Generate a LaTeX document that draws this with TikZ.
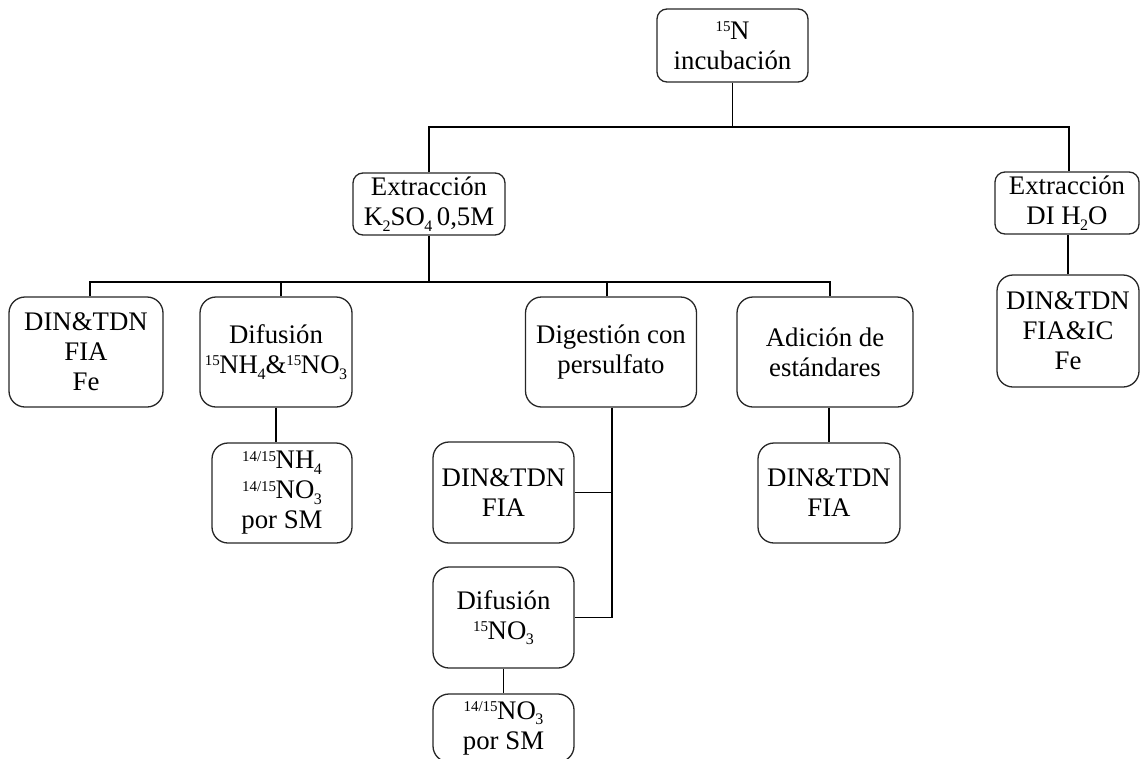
\documentclass[tikz,border=0pt]{standalone}
\usepackage{fontspec}
\setmainfont{Liberation Serif}
\newcommand\upn[1]{\raisebox{0.62ex}{\fontsize{15}{15}\selectfont #1}\kern-0.5pt}
\newcommand\dnn[1]{\kern-0.5pt\raisebox{-0.45ex}{\fontsize{16}{16}\selectfont #1}}
\begin{document}
\begin{tikzpicture}[x=1pt,y=-1pt,
  box/.style={draw=black!85, line width=1.3pt, rounded corners=16pt, align=center,
    inner sep=0pt, font=\fontsize{26.8}{30}\selectfont},
  sbox/.style={box, rounded corners=10pt},
  conn/.style={line width=1.4pt, black}]
\useasboundingbox (0,0) rectangle (1141,758);
\node[sbox, minimum width=151pt, minimum height=73pt] (top) at (732.5,45.5) {\upn{15}N\\incubación};
\node[sbox, minimum width=152pt, minimum height=62pt] (ext1) at (429,204) {Extracción\\K\dnn{2}SO\dnn{4}\,0,5M};
\node[sbox, minimum width=144pt, minimum height=62pt] (ext2) at (1067,203) {Extracción\\DI H\dnn{2}O};
\node[box, minimum width=142pt, minimum height=112pt] (fe2) at (1068,331) {DIN\&TDN\\FIA\&IC\\Fe};
\node[box, minimum width=154pt, minimum height=110pt] (din1) at (86,352) {DIN\&TDN\\FIA\\Fe};
\node[box, minimum width=152pt, minimum height=110pt] (dif1) at (276,352) {Difusión\\\upn{15}NH\dnn{4}\&\upn{15}NO\dnn{3}};
\node[box, minimum width=140pt, minimum height=100pt] (sm1) at (282,493) {\upn{14/15}NH\dnn{4}\\\upn{14/15}NO\dnn{3}\\por SM};
\node[box, minimum width=171pt, minimum height=110pt] (dig) at (611,352) {Digestión con\\persulfato};
\node[box, minimum width=141pt, minimum height=101pt] (din2) at (503.5,492.5) {DIN\&TDN\\FIA};
\node[box, minimum width=141pt, minimum height=101pt] (dif2) at (503.5,617.5) {Difusión\\\upn{15}NO\dnn{3}};
\node[box, minimum width=141pt, minimum height=68pt] (sm2) at (503.5,728) {\upn{14/15}NO\dnn{3}\\por SM};
\node[box, minimum width=176pt, minimum height=110pt] (add) at (825,352) {Adición de\\estándares};
\node[box, minimum width=142pt, minimum height=100pt] (din3) at (829,493) {DIN\&TDN\\FIA};
\coordinate (bus1) at (0,127);
\coordinate (bus2) at (0,282);
% top level
\draw[conn] (top.south) -- (top.south|-bus1);
\draw[conn] (ext1.north) -- (ext1.north|-bus1) -- ([xshift=2pt]ext2.north|-bus1) -- ([xshift=2pt]ext2.north);
\draw[conn] (fe2.north) -- (fe2.north|-ext2.south);
% second level
\draw[conn] (ext1.south) -- (ext1.south|-bus2);
\draw[conn] ([xshift=4pt]din1.north) -- ([xshift=4pt]din1.north|-bus2) -- ([xshift=5pt]add.north|-bus2) -- ([xshift=5pt]add.north);
\draw[conn] ([xshift=5pt]dif1.north) -- ([xshift=5pt]dif1.north|-bus2);
\draw[conn] ([xshift=-4pt]dig.north) -- ([xshift=-4pt]dig.north|-bus2);
% children
\draw[conn] (dif1.south) -- (dif1.south|-sm1.north);
\draw[conn] ([xshift=1pt]dig.south) -- ([xshift=1pt]dig.south|-dif2.east) -- (dif2.east);
\draw[conn] (din2.east) -- ([xshift=1pt]din2.east-|dig.south);
\draw[conn] (dif2.south) -- (sm2.north);
\draw[conn] (din3.north|-add.south) -- (din3.north);
\end{tikzpicture}
\end{document}
